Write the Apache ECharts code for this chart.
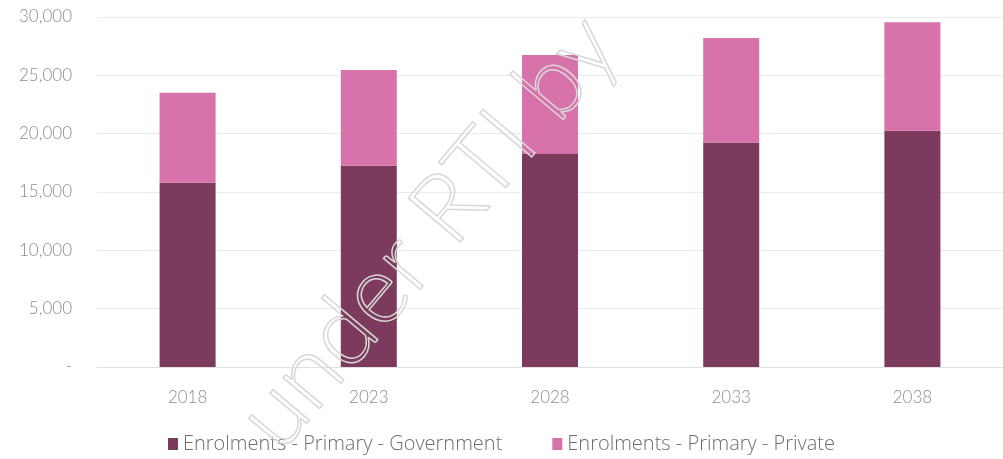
<!DOCTYPE html>
<html>
<head>
<meta charset="utf-8">
<script src="https://cdn.jsdelivr.net/npm/echarts@6/dist/echarts.min.js"></script>
<style>
body { margin: 0px; background: #fff; }
#main { width: 1003px; height: 459px; }
</style>
</head>
<body>
<div id="main"></div>
<script>
var years = ['2018', '2023', '2028', '2033', '2038'];
var government = [15800, 17250, 18250, 19250, 20250];
var privateSchools = [7700, 8200, 8500, 8950, 9300];
var yTicks = [0, 5000, 10000, 15000, 20000, 25000, 30000];

var textColor = '#8c8c8c';
var fontFamily = 'Lato, "Open Sans", sans-serif';

var myChart = echarts.init(document.getElementById('main'));

var option = {
	animation: false,
	grid: {
		left: 97,
		right: 0,
		top: 17,
		bottom: 92
	},
	legend: {
		bottom: 0,
		left: 'center',
		itemWidth: 10,
		itemHeight: 12,
		itemGap: 50,
		icon: 'rect',
		textStyle: { color: '#6e6e6e', fontSize: 20, fontFamily: '"Open Sans", sans-serif', fontWeight: 300 },
		data: ['Enrolments - Primary - Government', 'Enrolments - Primary - Private']
	},
	xAxis: {
		type: 'category',
		data: years,
		axisLine: { lineStyle: { color: '#e0e0e0' } },
		axisTick: { show: false },
		axisLabel: { color: textColor, fontSize: 17, fontFamily: fontFamily, fontWeight: 300, margin: 22 }
	},
	yAxis: {
		type: 'value',
		min: yTicks[0],
		max: yTicks[yTicks.length - 1],
		interval: 5000,
		axisLine: { show: false },
		axisTick: { show: false },
		splitLine: { lineStyle: { color: '#ebebeb' } },
		axisLabel: {
			color: textColor, fontSize: 17, fontFamily: fontFamily, fontWeight: 300, margin: 25,
			formatter: function (v) {
				return v === 0 ? '-' : v.toLocaleString('en-US');
			}
		}
	},
	series: [
		{
			name: 'Enrolments - Primary - Government',
			type: 'bar',
			stack: 'total',
			barWidth: 56,
			itemStyle: { color: '#7c3b5c' },
			data: government
		},
		{
			name: 'Enrolments - Primary - Private',
			type: 'bar',
			stack: 'total',
			barWidth: 56,
			itemStyle: { color: '#d872aa' },
			data: privateSchools
		}
	],
	graphic: [
		{
			type: 'text',
			x: 428,
			y: 232,
			rotation: 0.87,
			z: 100,
			style: {
				text: 'under RTI by',
				font: '300 96px Lato, sans-serif',
				fill: 'rgba(0,0,0,0)',
				stroke: '#d8d8d8',
				lineWidth: 1.5,
				align: 'center',
				verticalAlign: 'middle'
			}
		}
	]
};

myChart.setOption(option);
</script>
</body>
</html>
